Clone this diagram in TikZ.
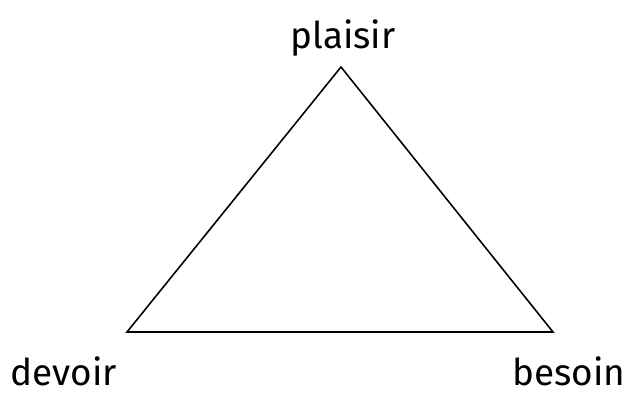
\documentclass[tikz,border=0pt]{standalone}
\usepackage{fontspec}
\setmainfont{Fira Sans}
\usetikzlibrary{positioning}
\tikzset{
  tlabel/.style={anchor=base, inner sep=0pt, font=\fontsize{21}{24}\selectfont},
  tside/.style={draw, line width=0.9pt, line join=miter},
}
\begin{document}
\begin{tikzpicture}[x=1cm,y=1cm]
  \useasboundingbox (0,0) rectangle (12.5,7.88);

  \coordinate (top) at (6.82,6.54);
  \coordinate (left) at (2.54,1.24);
  \coordinate (right) at (11.06,1.24);

  \node[tlabel] (plaisir) at (6.86,6.9) {plaisir};
  \node[tlabel] (devoir) at (1.27,0.18) {devoir};
  \node[tlabel] (besoin) at (11.38,0.18) {besoin};

  \draw[tside] (top) -- (right) -- (left) -- cycle;
\end{tikzpicture}
\end{document}
